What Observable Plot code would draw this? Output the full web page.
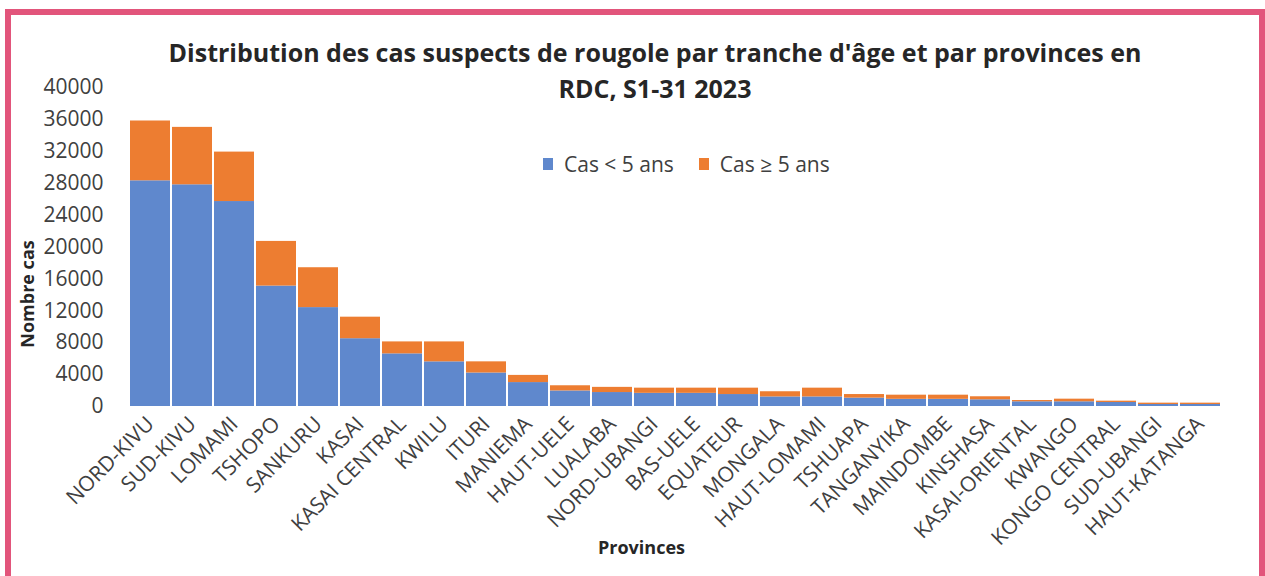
<!DOCTYPE html>
<html>
<head>
<meta charset="utf-8">
<script src="https://cdn.jsdelivr.net/npm/d3@7"></script>
<script src="https://cdn.jsdelivr.net/npm/@observablehq/plot@0.6"></script>
<style>
  html, body { margin: 0; padding: 0; background: #fff; width: 1265px; height: 576px; overflow: hidden; }
  #wrap { position: relative; width: 1265px; height: 576px; }
  #chart { position: absolute; left: 0; top: 0; }
  #border { position: absolute; left: 5px; top: 9px; width: 1248px; height: 600px; border: 6px solid #e2557b; border-bottom: none; pointer-events: none; }
  .title { position: absolute; left: 0; width: 1310px; text-align: center; font-family: "Open Sans", sans-serif; font-weight: bold; font-size: 25px; line-height: 30px; color: #262626; white-space: nowrap; }
  #legend { position: absolute; left: 543px; top: 150px; font-family: "Open Sans", sans-serif; font-size: 21px; color: #404040; display: flex; align-items: center; white-space: nowrap; }
  .sw { display: inline-block; width: 10px; height: 12px; margin-right: 11px; }
  .axt { position: absolute; font-family: "Open Sans", sans-serif; font-weight: bold; font-size: 18px; color: #262626; white-space: nowrap; }
</style>
</head>
<body>
<div id="wrap">
  <div id="chart"></div>
  <div class="title" style="top:37px;">Distribution des cas suspects de rougole par tranche d'âge et par provinces en</div>
  <div class="title" style="top:73px;">RDC, S1-31 2023</div>
  <div id="legend"></div>
  <div class="axt" style="left:598px; top:535px;">Provinces</div>
  <div class="axt" style="left:27px; top:294px; transform: translate(-50%,-50%) rotate(-90deg);">Nombre cas</div>
  <div id="border"></div>
</div>
<script>
const provinces = ["NORD-KIVU","SUD-KIVU","LOMAMI","TSHOPO","SANKURU","KASAI","KASAI CENTRAL","KWILU","ITURI","MANIEMA","HAUT-UELE","LUALABA","NORD-UBANGI","BAS-UELE","EQUATEUR","MONGALA","HAUT-LOMAMI","TSHUAPA","TANGANYIKA","MAINDOMBE","KINSHASA","KASAI-ORIENTAL","KWANGO","KONGO CENTRAL","SUD-UBANGI","HAUT-KATANGA"];
const casMoins5 = [28300,27800,25700,15100,12400,8500,6600,5600,4200,3000,1950,1750,1650,1650,1500,1200,1200,1050,900,900,840,590,590,500,250,250];
const casPlus5  = [7500,7200,6200,5600,5000,2700,1500,2500,1400,900,650,650,650,650,800,650,1100,450,520,520,380,160,330,170,170,170];
const seriesNames = ["Cas < 5 ans","Cas ≥ 5 ans"];
const seriesColors = ["#5f88cd","#ed7d31"];
const yTicks = [0,4000,8000,12000,16000,20000,24000,28000,32000,36000,40000];

const rows = [];
provinces.forEach((p,i) => rows.push({province: p, serie: seriesNames[0], value: casMoins5[i]}));
provinces.forEach((p,i) => rows.push({province: p, serie: seriesNames[1], value: casPlus5[i]}));

const chart = Plot.plot({
  width: 1265,
  height: 576,
  marginLeft: 127,
  marginRight: 43,
  marginTop: 87,
  marginBottom: 170,
  style: {fontFamily: "Open Sans, sans-serif", fontSize: "21px", color: "#404040", background: "transparent"},
  x: {domain: provinces, padding: 0.05, label: null},
  y: {domain: [0, 40000], label: null},
  color: {domain: seriesNames, range: seriesColors},
  marks: [
    Plot.barY(rows, {x: "province", y: "value", fill: "serie"}),
    Plot.axisY({ticks: yTicks, tickSize: 0, tickPadding: 24, tickFormat: d => String(d), label: null}),
    Plot.axisX({tickSize: 0, tickPadding: 14, tickRotate: -45, fontSize: 21, label: null})
  ]
});
document.getElementById("chart").appendChild(chart);

const legend = document.getElementById("legend");
seriesNames.forEach((s,i) => {
  const item = document.createElement("span");
  item.style.display = "inline-flex";
  item.style.alignItems = "center";
  item.style.marginRight = i === 0 ? "25px" : "0";
  const sw = document.createElement("span");
  sw.className = "sw";
  sw.style.background = seriesColors[i];
  item.appendChild(sw);
  item.appendChild(document.createTextNode(s));
  legend.appendChild(item);
});
</script>
</body>
</html>
